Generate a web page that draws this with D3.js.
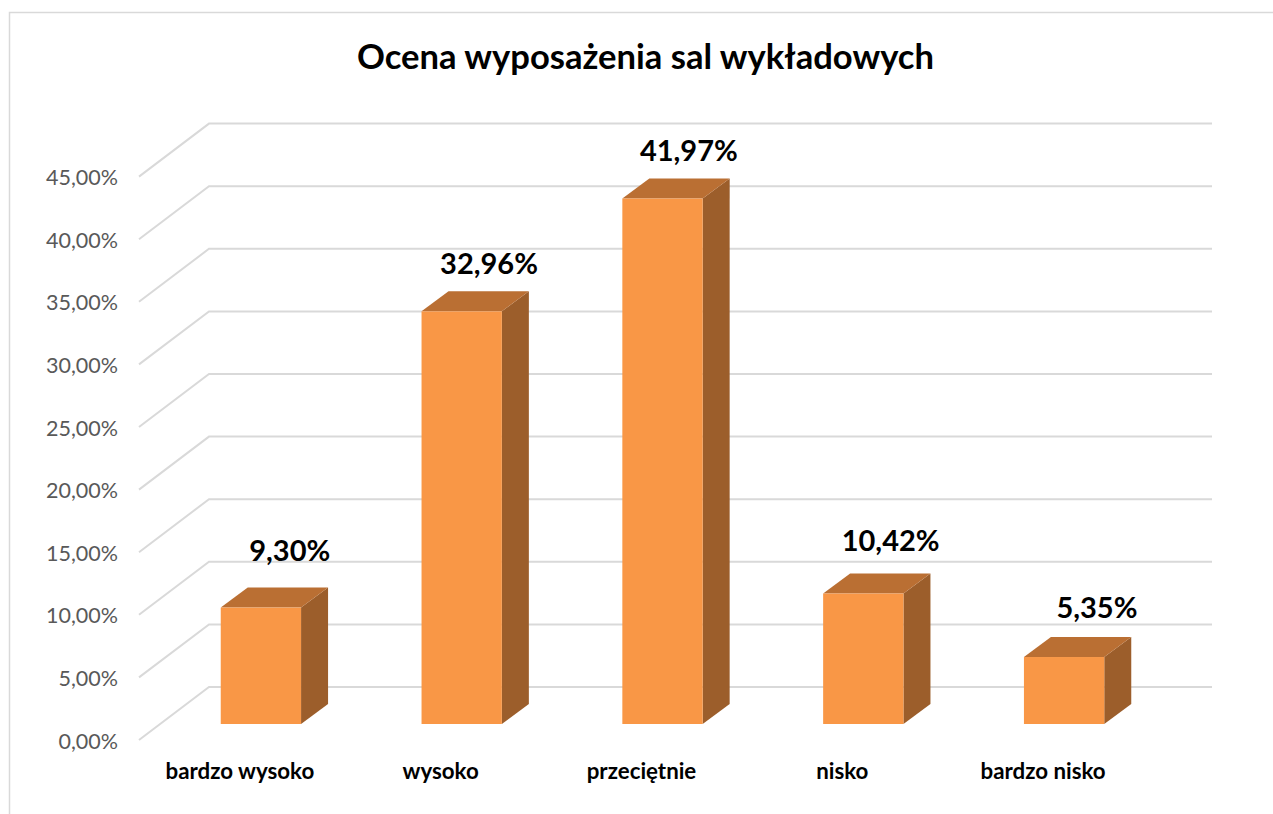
<!DOCTYPE html>
<html><head><meta charset="utf-8">
<script src="https://cdn.jsdelivr.net/npm/d3@7"></script>
<style>html,body{margin:0;padding:0;background:#fff;overflow:hidden}svg{display:block}text{font-family:Lato,"Open Sans",sans-serif}</style>
</head><body><svg id="c" width="1273" height="814"></svg>
<script>
const title = "Ocena wyposażenia sal wykładowych";
const categories = ["bardzo wysoko","wysoko","przeciętnie","nisko","bardzo nisko"];
const values = [9.30,32.96,41.97,10.42,5.35];
const ticks = [0,5,10,15,20,25,30,35,40,45];
const labelDx = [69,67.5,66.5,67.5,73];
const labelDy = [47,37.5,37.5,43,39];
const fmt = v => v.toFixed(2).replace(".", ",") + "%";

const svg = d3.select("#c");
svg.append("path").attr("d","M9.5,814V12.5H1273").attr("fill","none").attr("stroke","#d9d9d9").attr("stroke-width",1.5);

const baseY = 724, unit = 12.52;
const y = d3.scaleLinear().domain([0,45]).range([baseY, baseY-45*unit]);
const x = d3.scaleBand().domain(categories).range([160.5,1164.5]).paddingInner(0.6).paddingOuter(0.3);
const depth = {dx:27, dy:-20};
const wall = {x0:139, y0:16, x1:209, y1:-37, xEnd:1212};

const grid = svg.append("g").attr("fill","none").attr("stroke","#d9d9d9").attr("stroke-width",2);
ticks.forEach(t=>{
  const yy = y(t);
  grid.append("path").attr("d",`M${wall.x0},${yy+wall.y0}L${wall.x1},${yy+wall.y1}H${wall.xEnd}`);
});

svg.append("g").selectAll("text").data(ticks).join("text")
  .attr("x",118).attr("y",t=>y(t)+wall.y0+8.5)
  .attr("text-anchor","end").attr("fill","#595959").attr("font-size",21.5)
  .text(fmt);

const bars = svg.append("g").selectAll("g").data(categories).join("g");
bars.each(function(c,i){
  const g = d3.select(this), x0=x(c), w=x.bandwidth(), x1=x0+w, top=y(values[i]), b=y(0);
  g.append("path").attr("fill","#9c5e2b").attr("d",`M${x1},${top}l${depth.dx},${depth.dy}V${b+depth.dy}L${x1},${b}Z`);
  g.append("path").attr("fill","#ba6f33").attr("d",`M${x0},${top}l${depth.dx},${depth.dy}H${x1+depth.dx}L${x1},${top}Z`);
  g.append("rect").attr("x",x0).attr("y",top).attr("width",w).attr("height",b-top).attr("fill","#f99746");
  g.append("text").attr("x",x0+labelDx[i]).attr("y",top-labelDy[i])
    .attr("text-anchor","middle").attr("font-size",29).attr("font-weight",700).attr("fill","#000")
    .text(fmt(values[i]));
  g.append("text").attr("x",x0+w/2-21).attr("y",779)
    .attr("text-anchor","middle").attr("font-size",22.3).attr("font-weight",700).attr("fill","#000").text(c);
});

svg.append("text").attr("x",645.5).attr("y",69).attr("text-anchor","middle")
  .attr("font-size",34.6).attr("font-weight",700).attr("fill","#000").text(title);
</script></body></html>
